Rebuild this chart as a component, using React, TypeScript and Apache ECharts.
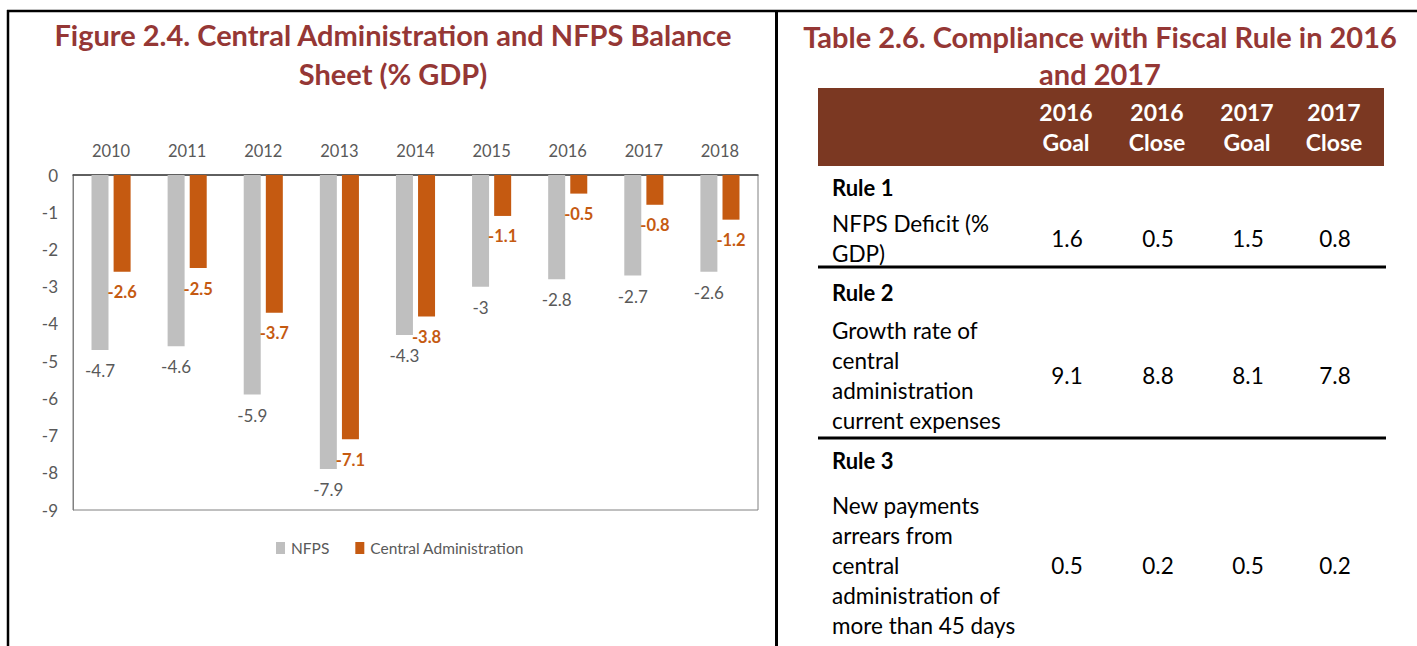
import React, { useEffect, useRef } from "react";
import * as echarts from "echarts";

const years = ["2010", "2011", "2012", "2013", "2014", "2015", "2016", "2017", "2018"];
const nfps = [-4.7, -4.6, -5.9, -7.9, -4.3, -3, -2.8, -2.7, -2.6];
const centralAdmin = [-2.6, -2.5, -3.7, -7.1, -3.8, -1.1, -0.5, -0.8, -1.2];
const seriesNames = ["NFPS", "Central Administration"];

const chartTitle = ["Figure 2.4. Central Administration and NFPS Balance", "Sheet (% GDP)"];
const tableTitle = ["Table 2.6. Compliance with Fiscal Rule in 2016", "and 2017"];
const tableColumns = [["2016", "Goal"], ["2016", "Close"], ["2017", "Goal"], ["2017", "Close"]];
const ruleNames = ["Rule 1", "Rule 2", "Rule 3"];
const ruleDescriptions = [
  ["NFPS Deficit (%", "GDP)"],
  ["Growth rate of", "central", "administration", "current expenses"],
  ["New payments", "arrears from", "central", "administration of", "more than 45 days"],
];
const goal2016 = ["1.6", "9.1", "0.5"];
const close2016 = ["0.5", "8.8", "0.2"];
const goal2017 = ["1.5", "8.1", "0.5"];
const close2017 = ["0.8", "7.8", "0.2"];

const FONT = "Lato";
const TITLE_COLOR = "#953735";
const HEADER_FILL = "#7B3822";
const GRAY_TEXT = "#595959";

export default function App() {
  const ref = useRef<HTMLDivElement>(null);
  useEffect(() => {
    if (!ref.current) return;
    const chart = echarts.init(ref.current, undefined, { renderer: "svg" });

    const graphics: any[] = [];
    // frame lines
    graphics.push({ type: "line", shape: { x1: 7, y1: 11, x2: 1417, y2: 11 }, style: { stroke: "#000", lineWidth: 2.5 } });
    graphics.push({ type: "line", shape: { x1: 8, y1: 10, x2: 8, y2: 646 }, style: { stroke: "#000", lineWidth: 2.5 } });
    graphics.push({ type: "line", shape: { x1: 776.5, y1: 10, x2: 776.5, y2: 646 }, style: { stroke: "#000", lineWidth: 3 } });

    // titles
    const titleStyle = { fontFamily: FONT, fontWeight: "bold", fontSize: 29, fill: TITLE_COLOR, align: "center", verticalAlign: "middle" };
    chartTitle.forEach((t, i) => {
      graphics.push({ type: "text", x: 393, y: 34 + i * 39, style: { ...titleStyle, text: t } });
    });
    tableTitle.forEach((t, i) => {
      graphics.push({ type: "text", x: 1100, y: 36 + i * 37, style: { ...titleStyle, text: t } });
    });

    // table header
    graphics.push({ type: "rect", shape: { x: 818, y: 88, width: 566, height: 78 }, style: { fill: HEADER_FILL } });
    const colX = [1066, 1157, 1247, 1334];
    tableColumns.forEach((lines, ci) => {
      lines.forEach((l, li) => {
        graphics.push({
          type: "text", x: colX[ci], y: 112 + li * 30,
          style: { text: l, fontFamily: FONT, fontWeight: "bold", fontSize: 23, fill: "#fff", align: "center", verticalAlign: "middle" },
        });
      });
    });

    // table body
    const ruleY = [187, 292, 460];
    const descY = [223, 330, 505];
    const valY = [238, 375, 565];
    const sepY = [267, 438];
    const cols = [goal2016, close2016, goal2017, close2017];
    ruleNames.forEach((r, ri) => {
      graphics.push({
        type: "text", x: 832, y: ruleY[ri],
        style: { text: r, fontFamily: FONT, fontWeight: "bold", fontSize: 22, fill: "#000", align: "left", verticalAlign: "middle" },
      });
      ruleDescriptions[ri].forEach((d, di) => {
        graphics.push({
          type: "text", x: 832, y: descY[ri] + di * 30,
          style: { text: d, fontFamily: FONT, fontSize: 22.5, fill: "#000", align: "left", verticalAlign: "middle" },
        });
      });
      cols.forEach((c, ci) => {
        graphics.push({
          type: "text", x: colX[ci] + 1, y: valY[ri],
          style: { text: c[ri], fontFamily: FONT, fontSize: 22.5, fill: "#000", align: "center", verticalAlign: "middle" },
        });
      });
    });
    sepY.forEach((y) => {
      graphics.push({ type: "line", shape: { x1: 818, y1: y, x2: 1386, y2: y }, style: { stroke: "#000", lineWidth: 3 } });
    });

    chart.setOption({
      animation: false,
      backgroundColor: "#fff",
      textStyle: { fontFamily: FONT },
      grid: { left: 73, right: 1417 - 758, top: 175, bottom: 646 - 510, show: true, borderColor: "#808080", borderWidth: 1 },
      legend: {
        left: 271, top: 535, itemWidth: 9, itemHeight: 12, itemGap: 26,
        icon: "rect",
        textStyle: { fontFamily: FONT, fontSize: 15.5, color: GRAY_TEXT, padding: [0, 0, 0, 1] },
        data: seriesNames,
      },
      xAxis: {
        type: "category", data: years, position: "top",
        axisTick: { show: false },
        axisLine: { show: true, onZero: false, lineStyle: { color: "#404040", width: 1.5 } },
        axisLabel: { fontFamily: FONT, fontSize: 16.5, color: GRAY_TEXT, margin: 16 },
      },
      yAxis: {
        type: "value", min: -9, max: 0, interval: 1,
        splitLine: { show: false },
        axisLine: { show: true, lineStyle: { color: "#808080" } },
        axisTick: { show: false },
        axisLabel: { fontFamily: FONT, fontSize: 17, color: GRAY_TEXT, margin: 15 },
      },
      series: [
        {
          name: seriesNames[0], type: "bar", data: nfps, barWidth: 17, barGap: "30%",
          itemStyle: { color: "#BFBFBF" },
          label: { show: true, position: "bottom", distance: 12, fontFamily: FONT, fontSize: 17, color: GRAY_TEXT },
        },
        {
          name: seriesNames[1], type: "bar", data: centralAdmin, barWidth: 17, barGap: "30%",
          itemStyle: { color: "#C55A11" },
          label: { show: true, position: "bottom", distance: 12, fontFamily: FONT, fontSize: 16.5, fontWeight: "bold", color: "#C55A11" },
        },
      ],
      graphic: graphics,
    });
    return () => chart.dispose();
  }, []);
  return <div ref={ref} style={{ position: "fixed", left: 0, top: 0, width: 1417, height: 646 }} />;
}
